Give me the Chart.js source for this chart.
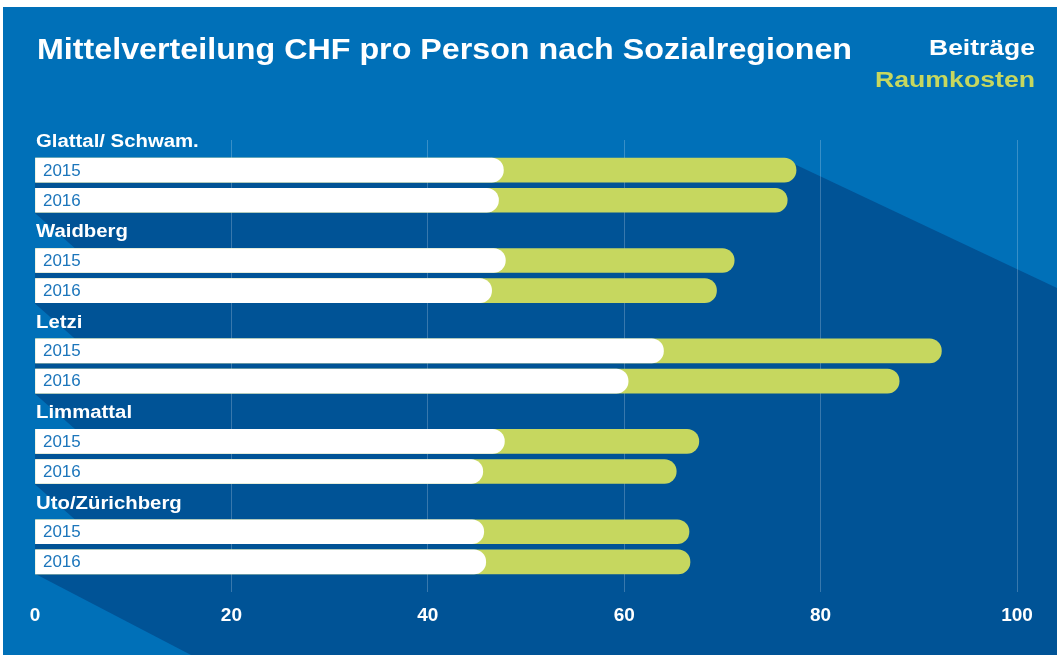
<!DOCTYPE html>
<html>
<head>
<meta charset="utf-8">
<script src="https://cdn.jsdelivr.net/npm/chart.js@4.4.0/dist/chart.umd.min.js"></script>
<style>
  html, body { margin: 0; padding: 0; background: #fff; }
  canvas { display: block; }
</style>
</head>
<body>
<canvas id="chart" width="1057" height="655"></canvas>
<script>
// values (CHF pro Person)
const regions = ['Glattal/ Schwam.', 'Waidberg', 'Letzi', 'Limmattal', 'Uto/Zürichberg'];
const years = ['2015', '2016'];
const beitraege2015 = [47.7, 47.9, 64.0, 47.8, 45.7];
const beitraege2016 = [47.2, 46.5, 60.4, 45.6, 45.9];
const raumkosten2015 = [29.8, 23.3, 28.3, 19.8, 20.9];
const raumkosten2016 = [29.4, 22.9, 27.6, 19.7, 20.8];
const xTicks = [0, 20, 40, 60, 80, 100];

const LIGHT = '#0070b8';
const DARK = '#005396';
const GREEN = '#c6d75f';
const YEARBLUE = '#1b75bb';
const FONT = '"Liberation Sans", Arial, Helvetica, sans-serif';

// one row for the region name, then one row per year, plus an empty row at the end
var rows = [];
var whiteData = [];
var greenData = [];
for (var i = 0; i < regions.length; i++) {
    rows.push(regions[i]);
    whiteData.push(null);
    greenData.push(null);
    rows.push(years[0]);
    whiteData.push(beitraege2015[i]);
    greenData.push(beitraege2015[i] + raumkosten2015[i]);
    rows.push(years[1]);
    whiteData.push(beitraege2016[i]);
    greenData.push(beitraege2016[i] + raumkosten2016[i]);
}
rows.push('');
whiteData.push(null);
greenData.push(null);

// the original lettering is a bit wider than Arial, so stretch it sideways
function wideText(ctx, text, x, y, sx, align) {
    ctx.save();
    ctx.translate(x, y);
    ctx.scale(sx, 1);
    ctx.textAlign = align || 'left';
    ctx.fillText(text, 0, 0);
    ctx.restore();
}

const backgroundPlugin = {
    id: 'background',
    beforeDraw(chart) {
        const ctx = chart.ctx;
        const area = chart.chartArea;
        const y = chart.scales.y;
        const W = chart.width, H = chart.height;
        const half = 12;
        ctx.save();
        ctx.fillStyle = '#ffffff';
        ctx.fillRect(0, 0, W, H);
        ctx.fillStyle = LIGHT;
        ctx.fillRect(3, 7, W - 3, H - 7);

        // darker diagonal band behind the bars
        const topBar = y.getPixelForValue(1) - half;
        const lastBottom = y.getPixelForValue(14) + half;
        ctx.fillStyle = DARK;
        ctx.beginPath();
        ctx.moveTo(area.left, topBar);
        ctx.lineTo(782, topBar);
        ctx.lineTo(W, 288);
        ctx.lineTo(W, H);
        ctx.lineTo(area.left + (H - lastBottom) / 0.52, H);
        ctx.lineTo(area.left, lastBottom);
        ctx.closePath();
        ctx.fill();

        // light wedges under each region
        ctx.fillStyle = LIGHT;
        for (var g = 0; g < regions.length - 1; g++) {
            const b = y.getPixelForValue(g * 3 + 2) + half;
            const t = y.getPixelForValue(g * 3 + 4) - half;
            ctx.beginPath();
            ctx.moveTo(area.left - 1, b);
            ctx.lineTo(area.left + (t - b) / 0.9, t);
            ctx.lineTo(area.left - 1, t);
            ctx.closePath();
            ctx.fill();
        }
        ctx.restore();
    }
};

const labelPlugin = {
    id: 'labels',
    afterDatasetsDraw(chart) {
        const ctx = chart.ctx;
        const area = chart.chartArea;
        const y = chart.scales.y;
        ctx.save();
        ctx.textBaseline = 'middle';
        for (var r = 0; r < rows.length - 1; r++) {
            const py = y.getPixelForValue(r);
            if (r % 3 === 0) {
                ctx.fillStyle = '#ffffff';
                ctx.font = 'bold 18px ' + FONT;
                wideText(ctx, rows[r], area.left + 1, py + 2, 1.13);
            } else {
                ctx.fillStyle = YEARBLUE;
                ctx.font = '16px ' + FONT;
                wideText(ctx, rows[r], area.left + 8, py + 1, 1.06);
            }
        }
        ctx.restore();
    },
    afterDraw(chart) {
        const ctx = chart.ctx;
        ctx.save();
        ctx.textBaseline = 'alphabetic';
        ctx.fillStyle = '#ffffff';
        ctx.font = 'bold 29px ' + FONT;
        const title = 'Mittelverteilung CHF pro Person nach Sozialregionen';
        wideText(ctx, title, 37, 59, 815 / ctx.measureText(title).width);
        ctx.font = 'bold 22px ' + FONT;
        wideText(ctx, 'Beiträge', 1035, 55, 106 / ctx.measureText('Beiträge').width, 'right');
        ctx.fillStyle = GREEN;
        wideText(ctx, 'Raumkosten', 1035, 87, 160 / ctx.measureText('Raumkosten').width, 'right');
        ctx.restore();
    }
};

new Chart(document.getElementById('chart'), {
    type: 'bar',
    data: {
        labels: rows,
        datasets: [
            {
                label: 'Beiträge',
                data: whiteData,
                backgroundColor: '#ffffff',
                borderRadius: 12,
                borderSkipped: 'start',
                barThickness: 24,
                grouped: false
            },
            {
                label: 'Raumkosten',
                data: greenData,
                backgroundColor: GREEN,
                borderRadius: 12,
                borderSkipped: 'start',
                barThickness: 24,
                grouped: false
            }
        ]
    },
    options: {
        indexAxis: 'y',
        responsive: false,
        animation: false,
        devicePixelRatio: 1,
        layout: { padding: { left: 35, right: 40, top: 140, bottom: 0 } },
        plugins: {
            legend: { display: false },
            tooltip: { enabled: false }
        },
        scales: {
            x: {
                min: xTicks[0],
                max: xTicks[xTicks.length - 1],
                afterBuildTicks: (axis) => { axis.ticks = xTicks.map(v => ({ value: v })); },
                afterFit: (axis) => { axis.height = 63; },
                ticks: {
                    color: '#ffffff',
                    font: { family: FONT, size: 19, weight: 'bold' },
                    padding: 12
                },
                grid: {
                    color: (c) => c.tick && c.tick.value === 0 ? 'rgba(0,0,0,0)' : 'rgba(255,255,255,0.22)',
                    lineWidth: 1,
                    drawTicks: false
                },
                border: { display: false }
            },
            y: {
                type: 'category',
                offset: false,
                display: false,
                grid: { offset: false, display: false }
            }
        }
    },
    plugins: [backgroundPlugin, labelPlugin]
});
</script>
</body>
</html>
